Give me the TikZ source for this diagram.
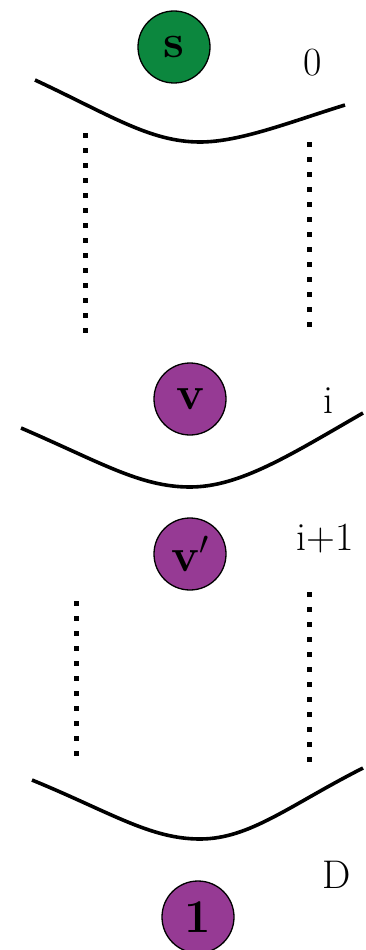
\documentclass[tikz,border=0pt]{standalone}
\usepackage{fix-cm}
\usepackage{fontspec}
\usetikzlibrary{positioning}
\definecolor{sgreen}{RGB}{12,135,62}
\definecolor{vpurple}{RGB}{150,58,148}

\begin{document}
\begin{tikzpicture}[x=1pt,y=-1pt,%
vertex/.style={circle,draw,line width=1.3pt,minimum size=72pt,inner sep=0pt,%
font=\bfseries\fontsize{47}{56}\selectfont},
level/.style={font=\fontsize{40}{48}\selectfont,inner sep=0pt},
cut/.style={line width=3.6pt},
dots/.style={line width=5pt,dash pattern=on 5pt off 10pt}]
\useasboundingbox (0,0) rectangle (365,950);
%\draw[help lines] (0,0) grid[step=50pt] (365,950);
\node[vertex,fill=sgreen]  (s)  at (174,47)  {s};
\node[vertex,fill=vpurple] (v)  at (190,399) {v};
\node[vertex,fill=vpurple] (vp) at (190,554) {v$'$};
\node[vertex,fill=vpurple] (t)  at (198,917) {\raisebox{-12pt}{1}};
\node[level] (l0) at (313,63)  {0};
\node[level] (li) at (328,401) {i};
\node[level] (lj) at (325,539) {i+1};
\node[level] (lD) at (337,875) {D};
\draw[cut] (35,80) .. controls (110,115) and (150,142) .. (200,142)
  .. controls (240,142) and (290,122) .. (345,105);
\draw[cut] (21,428) .. controls (100,462) and (140,487) .. (190,487)
  .. controls (240,487) and (290,455) .. (363,413);
\draw[cut] (32,780) .. controls (110,812) and (150,839) .. (200,839)
  .. controls (250,839) and (290,805) .. (363,768);
\coordinate (a1) at (85,133);  \coordinate (a2) at (85,340);
\coordinate (b1) at (309,142); \coordinate (b2) at (309,335);
\coordinate (c1) at (76,601);  \coordinate (c2) at (76,763);
\coordinate (d1) at (309,592); \coordinate (d2) at (309,768);
\draw[dots] (a1) -- (a2);
\draw[dots] (b1) -- (b2);
\draw[dots] (c1) -- (c2);
\draw[dots] (d1) -- (d2);
\end{tikzpicture}
\end{document}
